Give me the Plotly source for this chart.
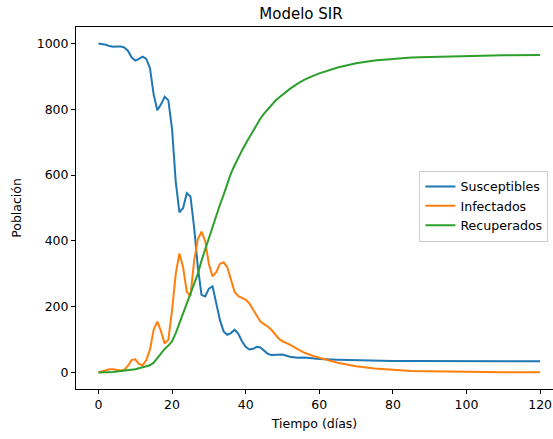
import plotly.graph_objects as go

days = list(range(0, 51)) + [52, 54, 56, 58, 60, 65, 70, 75, 80, 85, 90, 100, 110, 120]

susceptibles = [1000, 999, 996, 992, 990, 991, 991, 988, 978, 958,
                948, 953, 960, 953, 925, 845, 797, 815, 838, 827,
                740, 580, 487, 500, 545, 535, 440, 320, 236, 231,
                255, 262, 215, 160, 125, 115, 120, 130, 118, 95,
                78, 70, 72, 78, 76, 66, 57, 53, 54, 56,
                55, 48, 45, 46, 44, 41, 39, 37, 36, 35, 35, 35, 35, 34, 34]

infectados = [0, 3, 7, 10, 10, 7, 6, 8, 20, 38,
              40, 26, 22, 38, 70, 130, 155, 125, 88, 100,
              190, 300, 362, 320, 245, 232, 340, 405, 428, 400,
              330, 292, 305, 330, 335, 320, 280, 245, 232, 228,
              222, 210, 192, 170, 155, 147, 140, 130, 115, 103,
              95, 85, 72, 60, 52, 45, 30, 19, 12, 8, 5, 4, 2, 1, 1]

recuperados = [0, 0, 1, 1, 2, 3, 4, 5, 6, 8,
               10, 13, 16, 18, 22, 30, 45, 60, 72, 82,
               95, 120, 150, 185, 215, 240, 270, 300, 340, 375,
               410, 440, 475, 510, 540, 575, 605, 630, 655, 675,
               695, 715, 735, 755, 772, 787, 800, 813, 825, 835,
               845, 862, 877, 890, 900, 909, 927, 940, 948, 953, 957, 959, 962, 964, 965]

series = [("Susceptibles", susceptibles, "#1f77b4"),
          ("Infectados", infectados, "#ff7f0e"),
          ("Recuperados", recuperados, "#2ca02c")]

FONT = "DejaVu Sans"

fig = go.Figure()
for name, vals, col in series:
    fig.add_trace(go.Scatter(x=days, y=vals, mode="lines", name=name,
                             line=dict(color=col, width=2)))

fig.update_layout(
    width=553, height=439,
    margin=dict(l=76, r=0, t=27, b=50, autoexpand=False),
    paper_bgcolor="white", plot_bgcolor="white",
    font=dict(family=FONT, size=12.5, color="black"),
    title=dict(text="Modelo SIR", x=301/553, xanchor="center", xref="container",
               y=1 - 13.5/439, yanchor="middle", yref="container",
               font=dict(family=FONT, size=15, color="black")),
    legend=dict(x=0.72, y=0.603, xanchor="left", yanchor="top",
                bgcolor="rgba(255,255,255,0.8)", bordercolor="#cccccc", borderwidth=1,
                font=dict(family=FONT, size=12.6, color="black"),
                itemwidth=30, tracegroupgap=0),
    showlegend=True,
)
fig.update_xaxes(range=[-6.1, 123.5], showgrid=False, zeroline=False, automargin=False,
                 showline=True, linecolor="black", linewidth=1, mirror=True,
                 ticks="outside", ticklen=4, tickcolor="black",
                 tickvals=[0, 20, 40, 60, 80, 100, 120],
                 title=dict(text="Tiempo (días)", standoff=8,
                            font=dict(family=FONT, size=12.5)))
fig.update_yaxes(range=[-50, 1050], showgrid=False, zeroline=False, automargin=False,
                 showline=True, linecolor="black", linewidth=1,
                 ticks="outside", ticklen=4, tickcolor="black",
                 tickvals=[0, 200, 400, 600, 800, 1000],
                 title=dict(text="Población", standoff=12,
                            font=dict(family=FONT, size=12.5)))

fig.write_html("out.html", config={"displayModeBar": False},
               post_script="document.body.style.margin='0';document.body.style.overflow='hidden';")
